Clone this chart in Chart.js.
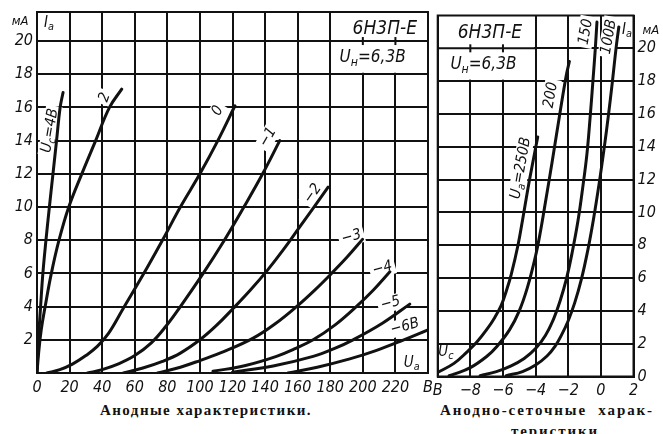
<!DOCTYPE html>
<html><head><meta charset="utf-8">
<script src="https://cdn.jsdelivr.net/npm/chart.js@4.4.1/dist/chart.umd.min.js"></script>
<style>
html,body{margin:0;padding:0;background:#fff;}
#wrap{position:relative;width:663px;height:434px;overflow:hidden;background:#fff;}
canvas{position:absolute;}
.cap{position:absolute;font-family:'Liberation Serif',serif;font-weight:bold;font-size:15px;color:#111;white-space:nowrap;line-height:15px;}
</style></head><body>
<div id="wrap">
<canvas id="c1" width="433" height="400" style="left:0;top:0;width:433px;height:400px"></canvas>
<canvas id="c2" width="230" height="400" style="left:433px;top:0;width:230px;height:400px"></canvas>
<div class="cap" id="cap1" style="left:100px;top:403px">Анодные характеристики.</div>
<div class="cap" id="cap2" style="left:440px;top:403px">Анодно-сеточные&nbsp;&nbsp;харак-</div>
<div class="cap" id="cap3" style="left:520px;top:424px">теристики</div>
</div>
<script>
// ---------- LEFT PANEL: anode characteristics Ia(Ua) for several grid voltages Uc ----------
const leftXTicks = [0,20,40,60,80,100,120,140,160,180,200,220,240];
const leftYTicks = [0,2,4,6,8,10,12,14,16,18,20];

const ua_p4 = [0,0.5,1.2,2.2,3.6,5.5,7.6,9.8,12,14.2,16];
const ia_p4 = [0,1.2,2.5,4,6,8,10,12,14,16,16.9];
const ua_p2 = [0,1,2.6,5,8.8,13.5,19.5,27.5,36,44.5,52];
const ia_p2 = [0,1.2,2.6,4,6,8,10,12,14,16,17.1];
const ua_0  = [6,14,22,30,37,44,53,65,77,88,100,111,121.5];
const ia_0  = [0,0.2,0.55,1.05,1.6,2.4,3.9,5.9,8,10,12,14,16.1];
const ua_m1 = [31,40,50,60,70,79,88,102,115,127,138.5,149];
const ia_m1 = [0,0.2,0.55,1.05,1.8,2.8,4,6,8,10,12,14];
const ua_m2 = [53,65,77,88,100,110,120.5,131,141.5,151,160.5,170,178.7];
const ia_m2 = [0,0.3,0.7,1.2,2,2.85,3.9,5,6.2,7.4,8.7,10,11.2];
const ua_m3 = [74,88,100,115,132.7,146,159.3,170,180.8,190.5,199.8];
const ia_m3 = [0,0.35,0.75,1.3,2.1,2.95,4,4.95,6,7,8.05];
const ua_m4 = [108,128,147,158,169.5,183,196,206.5,216.6];
const ia_m4 = [0.1,0.45,1,1.45,2,2.9,4,5,6.1];
const ua_m5 = [120,145,169.5,182,194,212,228.8];
const ia_m5 = [0.05,0.42,1,1.45,2,3,4.15];
const ua_m6 = [154,172,192,208,224,240];
const ia_m6 = [0,0.35,0.85,1.35,1.95,2.6];

// ---------- RIGHT PANEL: anode-grid characteristics Ia(Uc) for several anode voltages Ua ----------
const rightXTicks = [-10,-8,-6,-4,-2,0,2];
const rightYTicks = [0,2,4,6,8,10,12,14,16,18,20];

const uc_250 = [-10,-9,-8.2,-7.6,-7,-6.5,-6.1,-5.8,-5.5,-5.08,-4.72,-4.37,-3.87];
const ia_250 = [0.25,0.8,1.5,2.1,2.85,3.6,4.35,5.2,6.2,8,10,12,14.6];
const uc_200 = [-9.3,-9,-8,-7,-6.4,-5.6,-5,-4.5,-4,-3.7,-3.4,-3,-2.5,-2.13,-1.93];
const ia_200 = [0.05,0.14,0.54,1.22,1.8,2.84,4,5.43,7.36,8.85,10.6,13,16.1,18.3,19.2];
const uc_150 = [-7.4,-6.4,-5.5,-4.7,-4,-3.4,-2.9,-2.5,-2.1,-1.75,-1.4,-1.1,-0.85,-0.65,-0.48,-0.34,-0.24];
const ia_150 = [0.05,0.3,0.65,1.1,1.7,2.5,3.5,4.6,6,7.6,9.5,11.6,13.6,15.9,18.1,20,21.6];
const uc_100 = [-5.8,-4.8,-4,-3.3,-2.8,-2.4,-2,-1.6,-1.2,-0.8,-0.45,-0.1,0.2,0.46,0.71,0.93,1.1];
const ia_100 = [0.05,0.3,0.7,1.25,1.85,2.55,3.4,4.5,5.9,7.7,9.6,11.8,13.9,15.9,18,20,21.3];

// ---------- text annotations ----------
const leftLabels = [
  {parts:[['U'],['с',1],['=4В']], x:8, y:14.6, rot:-80, bg:true},
  {parts:[['2']], x:41.7, y:16.6, rot:-70, bg:true},
  {parts:[['0']], x:111, y:15.8, rot:-60, bg:true},
  {parts:[['−1']], x:141.7, y:14.2, rot:-60, bg:true},
  {parts:[['−2']], x:169.3, y:10.8, rot:-55, bg:true},
  {parts:[['−3']], x:193, y:8.2, rot:-15, bg:true},
  {parts:[['−4']], x:212, y:6.3, rot:-15, bg:true},
  {parts:[['−5']], x:217, y:4.2, rot:-15, bg:true},
  {parts:[['−6В']], x:225.8, y:2.8, rot:-15, bg:true},
  {parts:[['U'],['а',1]], x:230, y:0.6},
  {parts:[['I'],['а',1]], x:7.4, y:21.1},
  {parts:[['мА']], x:-10.4, y:21.15, size:13},
  {parts:[['6Н3П-Е']], x:213.5, y:20.7, size:19},
  {parts:[['U'],['н',1],['=6,3В']], x:206, y:19.0, size:17}
];
const rightLabels = [
  {parts:[['U'],['а',1],['=250В']], x:-4.9, y:12.7, rot:-80, bg:true},
  {parts:[['200']], x:-3.06, y:17.15, rot:-80, bg:true},
  {parts:[['150']], x:-0.91, y:21.0, rot:-80, bg:true},
  {parts:[['100В']], x:0.5, y:20.7, rot:-80, bg:true},
  {parts:[['U'],['с',1]], x:-9.5, y:1.5},
  {parts:[['I'],['а',1]], x:1.6, y:21.1},
  {parts:[['мА']], x:3.06, y:21.05, size:13},
  {parts:[['6Н3П-Е']], x:-6.8, y:20.9, size:19},
  {parts:[['U'],['н',1],['=6,3В']], x:-7.2, y:19.0, size:17}
];

const INK = '#111';
const FONT = "'Liberation Sans Narrow','DejaVu Sans Condensed','Liberation Sans',sans-serif";
const zip = (xs, ys) => xs.map((v,i)=>({x:v, y:ys[i]}));
const curve = (xs, ys) => ({data: zip(xs, ys), showLine:true, borderColor:INK, borderWidth:3,
  pointRadius:0, tension:0.4, borderCapStyle:'round', borderJoinStyle:'round'});

function drawRich(ctx, parts, cx, cy, rot, size, bg){
  ctx.save();
  ctx.translate(cx, cy); ctx.rotate(rot*Math.PI/180);
  let w = 0; const ms = [];
  for (const p of parts){
    const fs = p[1] ? size*0.72 : size;
    ctx.font = `italic ${fs}px ${FONT}`;
    const m = ctx.measureText(p[0]).width;
    ms.push([p, fs, m]); w += m;
  }
  if (bg){ ctx.fillStyle = '#fff'; ctx.fillRect(-w/2-3, -size*0.55, w+6, size*1.1); }
  ctx.fillStyle = INK; ctx.textBaseline = 'middle'; ctx.textAlign = 'left';
  let xx = -w/2;
  for (const [p, fs, m] of ms){
    ctx.font = `italic ${fs}px ${FONT}`;
    ctx.fillText(p[0], xx, p[1] ? size*0.28 : 0);
    xx += m;
  }
  ctx.restore();
}

const decor = {
  id:'decor',
  beforeDatasetsDraw(chart, args, o){
    const {ctx, chartArea:a, scales:{x:sx, y:sy}} = chart;
    ctx.save();
    if (o.box){
      const L = sx.getPixelForValue(o.box[0]), R = sx.getPixelForValue(o.box[1]);
      const B = sy.getPixelForValue(o.box[2]), M = sy.getPixelForValue(o.box[3]);
      ctx.fillStyle = '#fff';
      ctx.fillRect(L+1.5, a.top, R-L-3, B-a.top-1.5);
      ctx.strokeStyle = INK; ctx.lineWidth = 2;
      ctx.beginPath(); ctx.moveTo(L, M); ctx.lineTo(R, M); ctx.stroke();
      for (const v of o.marks){
        const px = sx.getPixelForValue(v);
        ctx.beginPath(); ctx.moveTo(px, M-4); ctx.lineTo(px, M+4); ctx.stroke();
      }
    }
    ctx.strokeStyle = INK; ctx.lineWidth = 2;
    ctx.strokeRect(a.left, a.top, a.right-a.left, a.bottom-a.top);
    for (const l of o.labels){
      drawRich(ctx, l.parts, sx.getPixelForValue(l.x), sy.getPixelForValue(l.y), l.rot||0, l.size||15, l.bg);
    }
    ctx.restore();
  }
};

function axisCommon(){
  return {
    type:'linear',
    grid:{color:INK, lineWidth:2, drawTicks:false, tickLength:0},
    border:{display:true, color:INK, width:2},
    ticks:{color:INK, font:{family:FONT, size:16, style:'italic'}, autoSkip:false, maxRotation:0}
  };
}

function makeChart(id, datasets, xt, yt, xr, yr, pad, xh, yw, ypos, xcb, ycb, plug){
  const X = axisCommon(), Y = axisCommon();
  Object.assign(X, {min:xr[0], max:xr[1],
    afterBuildTicks: s => { s.ticks = xt.map(v=>({value:v})); },
    afterFit: s => { s.height = xh; s.paddingLeft = 0; s.paddingRight = 0; }});
  X.ticks.callback = xcb; X.ticks.padding = 5;
  Object.assign(Y, {min:yr[0], max:yr[1], position:ypos,
    afterBuildTicks: s => { s.ticks = yt.map(v=>({value:v})); },
    afterFit: s => { s.width = yw; s.paddingTop = 0; s.paddingBottom = 0; }});
  Y.ticks.callback = ycb; Y.ticks.padding = 4;
  return new Chart(document.getElementById(id), {
    type:'scatter',
    data:{datasets},
    options:{
      responsive:false, animation:false, devicePixelRatio:1,
      layout:{padding:pad},
      scales:{x:X, y:Y},
      plugins:{legend:{display:false}, tooltip:{enabled:false}, decor:plug}
    },
    plugins:[decor]
  });
}

makeChart('c1',
  [curve(ua_p4,ia_p4), curve(ua_p2,ia_p2), curve(ua_0,ia_0), curve(ua_m1,ia_m1), curve(ua_m2,ia_m2),
   curve(ua_m3,ia_m3), curve(ua_m4,ia_m4), curve(ua_m5,ia_m5), curve(ua_m6,ia_m6)],
  leftXTicks, leftYTicks, [0,240], [0,21.75],
  {left:0, top:12, right:5, bottom:0}, 27, 37, 'left',
  v => v === 240 ? 'В' : String(v),
  v => v === 0 ? '' : String(v),
  {labels:leftLabels, box:[180,240,18,20], marks:[200,220]});

makeChart('c2',
  [curve(uc_250,ia_250), curve(uc_200,ia_200), curve(uc_150,ia_150), curve(uc_100,ia_100)],
  rightXTicks, rightYTicks, [-10,2], [0,22],
  {left:4.7, top:15.5, right:0, bottom:0}, 23.5, 29.5, 'right',
  v => v === -10 ? 'В' : (v < 0 ? '−' + Math.abs(v) : String(v)),
  v => String(v),
  {labels:rightLabels, box:[-10,-4,18,20], marks:[-8,-6]});

function fitWidth(id, target){
  const el = document.getElementById(id);
  el.style.letterSpacing = '0px';
  const w = el.getBoundingClientRect().width;
  const n = el.textContent.length;
  const ls = (target - w)/n;
  el.style.letterSpacing = ls + 'px';
  return ls;
}
fitWidth('cap1', 212);
const ls2 = fitWidth('cap2', 214);
const c3 = document.getElementById('cap3');
c3.style.letterSpacing = ls2 + 'px';
const w3 = c3.getBoundingClientRect().width;
c3.style.left = (555 - w3/2) + 'px';
</script>
</body></html>
